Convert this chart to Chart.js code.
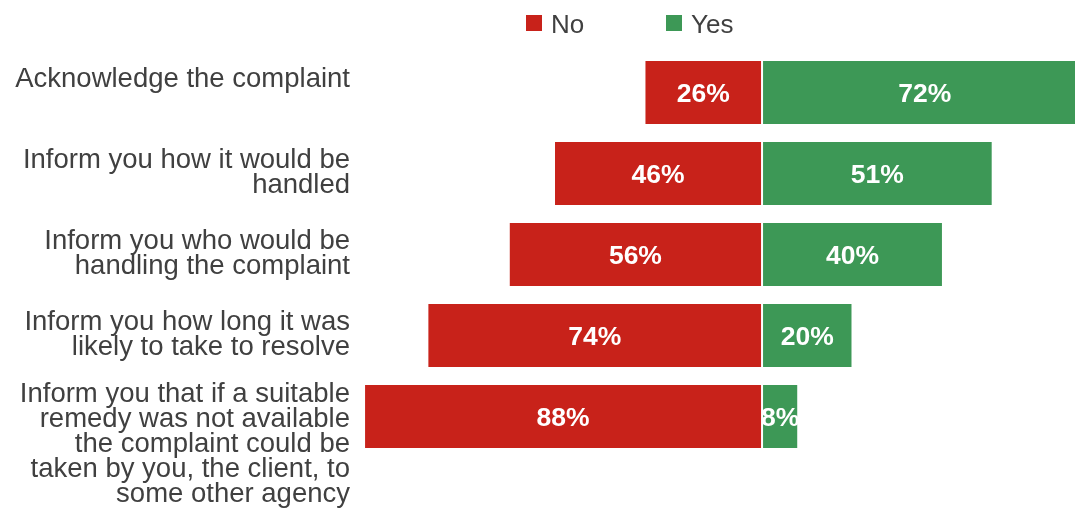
<!DOCTYPE html>
<html>
<head>
<meta charset="utf-8">
<title>Complaint handling</title>
<script src="https://cdn.jsdelivr.net/npm/chart.js@4/dist/chart.umd.min.js"></script>
<style>
  html, body { margin: 0; padding: 0; background: #fff; }
  #complaintChart { display: block; }
</style>
</head>
<body>
<canvas id="complaintChart" width="1075" height="511"></canvas>
<script>
// categories (multi-line) and the two answer series, in percent
const categories = [
  ["Acknowledge the complaint"],
  ["Inform you how it would be", "handled"],
  ["Inform you who would be", "handling the complaint"],
  ["Inform you how long it was", "likely to take to resolve"],
  ["Inform you that if a suitable", "remedy was not available", "the complaint could be", "taken by you, the client, to", "some other agency"]
];
const seriesNames = ["No", "Yes"];
const noValues = [26, 46, 56, 74, 88];
const yesValues = [72, 51, 40, 20, 8];

const RED = "#C8221A";
const GREEN = "#3D9856";
const TEXT = "#404040";
const FONT = '"Liberation Sans", Arial, sans-serif';

// category labels to the left of the bars, right-aligned, first line just above the row middle
const categoryLabels = {
  id: "categoryLabels",
  afterDraw(chart) {
    const { ctx, chartArea, scales } = chart;
    ctx.save();
    ctx.font = "27.5px " + FONT;
    ctx.fillStyle = TEXT;
    ctx.textAlign = "right";
    ctx.textBaseline = "alphabetic";
    categories.forEach((lines, i) => {
      const y = scales.y.getPixelForValue(i);
      // long labels start a little higher
      const top = y - 6 - Math.max(0, lines.length - 2) * 3;
      lines.forEach((line, j) => {
        ctx.fillText(line, chartArea.left - 10, top + j * 25);
      });
    });
    ctx.restore();
  }
};

// white percentage in the middle of every bar
const barValues = {
  id: "barValues",
  afterDatasetsDraw(chart) {
    const { ctx } = chart;
    ctx.save();
    ctx.font = "bold 26.5px " + FONT;
    ctx.fillStyle = "#fff";
    ctx.textAlign = "center";
    ctx.textBaseline = "alphabetic";
    chart.data.datasets.forEach((ds, di) => {
      chart.getDatasetMeta(di).data.forEach((bar, i) => {
        const p = bar.getCenterPoint();
        ctx.fillText(Math.abs(ds.data[i]) + "%", p.x, p.y + 9.5);
      });
    });
    ctx.restore();
  }
};

// simple legend row above the bars
const legendRow = {
  id: "legendRow",
  afterDraw(chart) {
    const { ctx } = chart;
    const items = [
      { text: seriesNames[0], color: RED, x: 526 },
      { text: seriesNames[1], color: GREEN, x: 666 }
    ];
    ctx.save();
    ctx.font = "26px " + FONT;
    ctx.textBaseline = "alphabetic";
    ctx.textAlign = "left";
    items.forEach(it => {
      ctx.fillStyle = it.color;
      ctx.fillRect(it.x, 15, 16, 16);
      ctx.fillStyle = TEXT;
      ctx.fillText(it.text, it.x + 25, 33);
    });
    ctx.restore();
  }
};

new Chart(document.getElementById("complaintChart"), {
  type: "bar",
  data: {
    labels: categories,
    datasets: [
      {
        label: seriesNames[0],
        data: noValues.map(v => -v),
        backgroundColor: RED,
        borderColor: "rgba(255,255,255,0.85)",
        borderWidth: 1,
        borderSkipped: false,
        categoryPercentage: 1,
        barPercentage: 0.8
      },
      {
        label: seriesNames[1],
        data: yesValues,
        backgroundColor: GREEN,
        borderColor: "rgba(255,255,255,0.85)",
        borderWidth: 1,
        borderSkipped: false,
        categoryPercentage: 1,
        barPercentage: 0.8
      }
    ]
  },
  options: {
    indexAxis: "y",
    responsive: false,
    animation: false,
    devicePixelRatio: 1,
    layout: { padding: { left: 360, right: 0, top: 52, bottom: 54 } },
    plugins: {
      legend: { display: false },
      tooltip: { enabled: false }
    },
    scales: {
      x: {
        stacked: true,
        min: -88.9,
        max: 69.2,
        display: false
      },
      y: {
        stacked: true,
        display: false
      }
    }
  },
  plugins: [barValues, categoryLabels, legendRow]
});
</script>
</body>
</html>
